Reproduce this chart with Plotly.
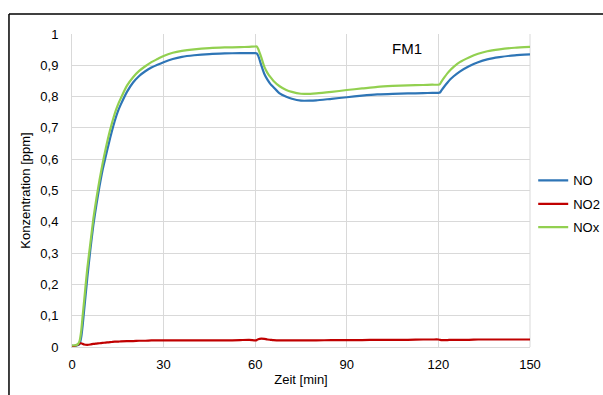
import plotly.graph_objects as go

time_min = [0, 1, 2, 2.5, 3, 3.5, 4, 5, 6, 7, 8, 9, 10, 11, 12, 13, 14, 15, 16, 18, 20, 22, 24, 26, 28, 30,
            33, 36, 40, 45, 50, 55, 58, 60, 60.5, 61, 62, 63, 64, 65, 66, 68, 70, 72, 75, 78, 80, 85, 90,
            95, 100, 105, 110, 115, 118, 120, 120.5, 121, 122, 123, 124, 125, 127, 130, 133, 136, 140, 145, 150]

no_ppm = [0.004, 0.004, 0.006, 0.01, 0.03, 0.07, 0.12, 0.22, 0.31, 0.39, 0.455, 0.513, 0.565, 0.607, 0.648, 0.687,
          0.722, 0.752, 0.775, 0.815, 0.845, 0.866, 0.881, 0.893, 0.902, 0.91,
          0.92, 0.927, 0.932, 0.936, 0.938, 0.939, 0.939, 0.939, 0.938, 0.93, 0.9, 0.872, 0.854, 0.84, 0.83,
          0.81, 0.8, 0.793, 0.787, 0.787, 0.788, 0.793, 0.798,
          0.803, 0.807, 0.809, 0.81, 0.811, 0.812, 0.812, 0.813, 0.82, 0.833, 0.845, 0.856, 0.865, 0.88,
          0.897, 0.91, 0.919, 0.926, 0.932, 0.935]

no2_ppm = [0.003, 0.004, 0.008, 0.011, 0.012, 0.01, 0.008, 0.007, 0.008, 0.01, 0.011, 0.012, 0.013, 0.014,
           0.015, 0.016, 0.017, 0.017, 0.018, 0.019, 0.019, 0.02, 0.02, 0.021, 0.021, 0.021,
           0.021, 0.021, 0.021, 0.021, 0.021, 0.022, 0.023, 0.021, 0.022, 0.025, 0.027, 0.026, 0.024, 0.023,
           0.022, 0.021, 0.021, 0.021, 0.021, 0.021, 0.021, 0.022, 0.022,
           0.022, 0.023, 0.023, 0.023, 0.024, 0.024, 0.024, 0.023, 0.022, 0.022, 0.022, 0.023, 0.023, 0.023,
           0.023, 0.024, 0.024, 0.024, 0.024, 0.024]

nox_ppm = [0.005, 0.005, 0.01, 0.02, 0.05, 0.1, 0.15, 0.25, 0.33, 0.41, 0.475, 0.533, 0.585, 0.632, 0.675, 0.712,
           0.746, 0.773, 0.795, 0.835, 0.862, 0.882, 0.897, 0.91, 0.92, 0.93,
           0.94, 0.946, 0.951, 0.955, 0.957, 0.958, 0.959, 0.96, 0.96, 0.952, 0.925, 0.895, 0.876, 0.862, 0.85,
           0.833, 0.822, 0.815, 0.809, 0.809, 0.81, 0.815, 0.821,
           0.826, 0.831, 0.834, 0.836, 0.837, 0.838, 0.838, 0.84, 0.848, 0.862, 0.875, 0.886, 0.895, 0.91,
           0.925, 0.937, 0.945, 0.951, 0.956, 0.959]

series_names = ["NO", "NO2", "NOx"]
series_colors = ["#2E75B6", "#C00000", "#92D050"]

y_ticks = [0, 0.1, 0.2, 0.3, 0.4, 0.5, 0.6, 0.7, 0.8, 0.9, 1]
y_tick_labels = ["0", "0,1", "0,2", "0,3", "0,4", "0,5", "0,6", "0,7", "0,8", "0,9", "1"]
x_ticks = [0, 30, 60, 90, 120, 150]

FONT = "Liberation Sans, Arial, sans-serif"

fig = go.Figure()
for name, vals, col in zip(series_names, [no_ppm, no2_ppm, nox_ppm], series_colors):
    fig.add_trace(go.Scatter(x=time_min, y=vals, name=name, mode="lines", legendgroup=name,
                             line=dict(color=col, width=2.2, shape="spline", smoothing=0.6)))

fig.update_layout(
    width=603, height=395,
    margin=dict(l=72, r=73, t=34, b=48, autoexpand=False),
    paper_bgcolor="white", plot_bgcolor="white",
    font=dict(family=FONT, size=13, color="#000000"),
    showlegend=True,
    legend=dict(x=1.007, y=0.457, xanchor="left", yanchor="middle",
                font=dict(size=13), itemwidth=30, tracegroupgap=3.5,
                bgcolor="rgba(0,0,0,0)"),
    xaxis=dict(range=[0, 150], tickvals=x_ticks, showgrid=True, gridcolor="#D9D9D9", gridwidth=1,
               showline=True, linecolor="#D9D9D9", linewidth=1, zeroline=False, automargin=False,
               ticks="", ticklabelstandoff=5, mirror=False,
               title=dict(text="Zeit [min]", font=dict(size=13), standoff=4)),
    yaxis=dict(range=[0, 1], tickvals=y_ticks, ticktext=y_tick_labels, showgrid=True, automargin=False,
               gridcolor="#D9D9D9", gridwidth=1, showline=True, linecolor="#D9D9D9", linewidth=1,
               zeroline=False, ticks="", ticklabelstandoff=10,
               title=dict(text="Konzentration [ppm]", font=dict(size=13), standoff=6)),
    annotations=[dict(text="FM1", x=0.731, y=0.955, xref="paper", yref="paper",
                      showarrow=False, font=dict(size=15), xanchor="center", yanchor="middle")],
    shapes=[
        dict(type="line", xref="paper", yref="paper", x0=-0.1376, x1=-0.1376, y0=1.0639, y1=-0.2,
             line=dict(color="black", width=1.5)),
        dict(type="line", xref="paper", yref="paper", x0=-0.1376, x1=1.2, y0=1.0639, y1=1.0639,
             line=dict(color="black", width=1.5)),
        dict(type="line", xref="paper", yref="paper", x0=1, x1=1, y0=0, y1=1,
             line=dict(color="#D9D9D9", width=1), layer="below"),
    ],
)

fig.write_html("out.html")
